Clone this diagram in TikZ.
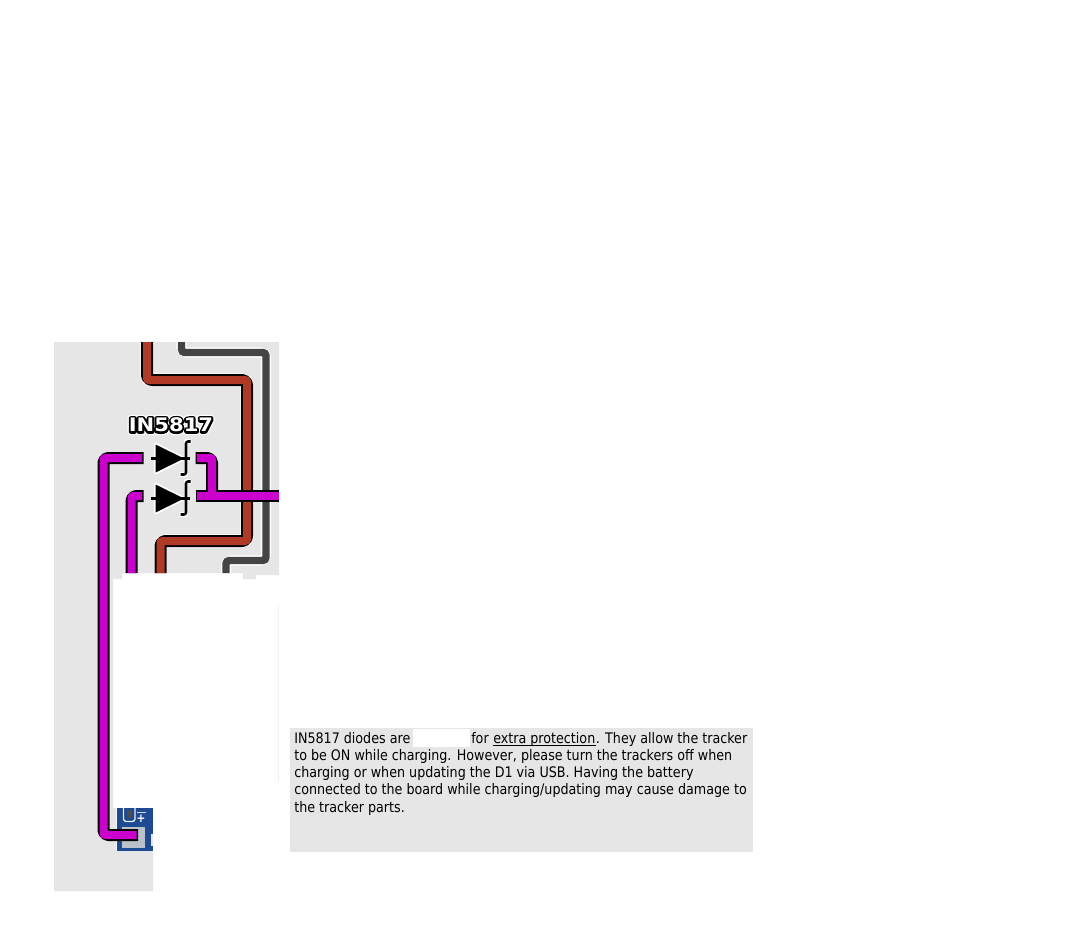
\documentclass[tikz,border=0pt]{standalone}
\usepackage{fontspec}
\setmainfont[FakeStretch=0.972]{DejaVu Sans Condensed}
\newfontfamily\labfont[FakeStretch=1.13]{DejaVu Sans Bold}
\definecolor{panelgrey}{HTML}{E6E6E6}
\definecolor{wirered}{HTML}{B03A26}
\definecolor{wiregrey}{HTML}{444444}
\definecolor{wiremag}{HTML}{CC00CC}
\definecolor{boardblue}{HTML}{1D4A92}
\definecolor{padgrey}{HTML}{B9C2CA}
\newcommand{\outlinedlabel}[1]{%
  \rlap{\special{pdf:literal direct q 1 j 1 J 5 w 1 1 1 RG 1 1 1 rg 2 Tr}#1\special{pdf:literal direct Q}}%
  \rlap{\special{pdf:literal direct q 1 j 1 J 3 w 0 0 0 RG 0 0 0 rg 2 Tr}#1\special{pdf:literal direct Q}}%
  \textcolor{white}{#1}}
\tikzset{
  halo/.style={draw=white,line width=10pt,rounded corners=4pt},
  greyhalo/.style={draw=white,line width=7.6pt,rounded corners=4pt},
  casing/.style={draw=black,line width=9pt,rounded corners=3.5pt,line join=round},
  redcore/.style={draw=wirered,line width=6pt,rounded corners=1.5pt},
  greycore/.style={draw=wiregrey,line width=5.6pt,rounded corners=2.5pt},
  magcore/.style={draw=wiremag,line width=6pt,rounded corners=1.5pt},
  bodytext/.style={anchor=base west,inner sep=0pt,font=\fontsize{10.9pt}{13pt}\selectfont,text=black},
  diodehalo/.style={draw=white,line width=3.2pt,line join=round,line cap=round},
  diodeline/.style={draw=black,line width=1.9pt,line join=round},
}
\begin{document}
\begin{tikzpicture}[x=0.75pt,y=-0.75pt]
\useasboundingbox (0,0) rectangle (1080,942);
\fill[white] (0,0) rectangle (1080,942);
\fill[panelgrey] (54,342) -- (279,342) -- (279,575) -- (256,575) -- (256,579) -- (243,579) -- (243,573) -- (122,573) -- (122,579) -- (113,579) -- (113,808) -- (116,808) -- (116,851) -- (153,851) -- (153,891) -- (54,891) -- cycle;
\draw[draw=panelgrey!50!white,line width=0.6pt] (278.6,605) -- (278.6,782);
% board
\fill[boardblue] (116.5,808) rectangle (153,851);
\fill[panelgrey] (150.5,834) rectangle (153,846);
\fill[padgrey] (122,827) rectangle (145,848);
\draw[white!90!boardblue,line width=1pt,rounded corners=2pt] (123.5,808) -- (123.5,821.5) -- (135,821.5) -- (135,808);
\fill[black!70] (127,810) rectangle (132,818);
\node[font=\fontsize{9pt}{9pt}\selectfont\bfseries,text=white,inner sep=0pt] (plus) at (141,818.5) {+};
\fill[white!80!boardblue] (137,811.5) rectangle (146,813);
% wires
\coordinate (r0) at (147,342); \coordinate (r1) at (147,380); \coordinate (r2) at (247,380);
\coordinate (r3) at (247,541); \coordinate (r4) at (160.5,541); \coordinate (r5) at (160.5,573);
\coordinate (g0) at (181.5,342); \coordinate (g1) at (181.5,352.5); \coordinate (g2) at (266,352.5);
\coordinate (g3) at (266,560.5); \coordinate (g4) at (226,560.5); \coordinate (g5) at (226,573);
\path[halo] (r0)--(r1)--(r2)--(r3)--(r4)--(r5);
\path[casing] (r0)--(r1)--(r2)--(r3)--(r4)--(r5);
\path[redcore] (r0)--(r1)--(r2)--(r3)--(r4)--(r5);
\path[greyhalo] (g0)--(g1)--(g2)--(g3)--(g4)--(g5);
\path[greycore] (g0)--(g1)--(g2)--(g3)--(g4)--(g5);
\coordinate (a0) at (143.5,458); \coordinate (a1) at (103.5,458); \coordinate (a2) at (103.5,835); \coordinate (a3) at (138,835);
\coordinate (b0) at (143.5,496); \coordinate (b1) at (131.5,496); \coordinate (b2) at (131.5,573);
\coordinate (c0) at (195.5,458); \coordinate (c1) at (212,458); \coordinate (c2) at (212,496);
\coordinate (d0) at (195.5,496); \coordinate (d1) at (279,496);
\path[casing] (a0)--(a1)--(a2)--(a3);
\path[casing] (b0)--(b1)--(b2);
\path[casing] (c0)--(c1)--(c2);
\path[casing] (d0)--(d1);
\path[magcore,shorten <=1.1pt,shorten >=1.1pt] (a0)--(a1)--(a2)--(a3);
\path[magcore,shorten <=1.1pt] (b0)--(b1)--(b2);
\path[magcore,shorten <=1.1pt] (c0)--(c1)--(c2);
\path[magcore,shorten <=1.1pt] (d0)--(d1);
% diodes
\foreach \yy in {458.5,498.5}{
  \begin{scope}[shift={(0,\yy)}]
    \path[diodehalo] (156,-13.5) -- (183,0) -- (156,13.5) -- cycle;
    \path[diodehalo] (189.5,-17) -- (186,-17) -- (186,16) -- (181,16);
    \draw[diodeline] (151,0) -- (190,0);
    \fill[black] (155.5,-14) -- (184,0) -- (155.5,14) -- cycle;
    \draw[diodeline,rounded corners=1.5pt] (190.5,-17) -- (186,-17) -- (186,16) -- (180.5,16);
  \end{scope}
}
\node[inner sep=0pt,font=\labfont\fontsize{14pt}{16pt}\selectfont] (lab) at (171,425) {\outlinedlabel{IN5817}};
% text panel
\fill[panelgrey] (290,728) rectangle (753,852);
\fill[white] (413,729) rectangle (470,747);
\node[bodytext] (l1a) at (294,743) {IN5817 diodes are};
\node[bodytext] (l1b) at (471,743) {for};
\node[bodytext] (ul) at (493,743) {extra protection};
\draw[black,line width=0.75pt] (ul.base west)++(0,2) -- (ul.base east |- 0,745);
\node[bodytext] (l1c) at (ul.base east) {. They allow the tracker};
\node[bodytext] (l2) at (294,760) {to be ON while charging. However, please turn the trackers off when};
\node[bodytext] (l3) at (294,777) {charging or when updating the D1 via USB. Having the battery};
\node[bodytext] (l4) at (294,794.5) {connected to the board while charging/updating may cause damage to};
\node[bodytext] (l5) at (294,812) {the tracker parts.};
\end{tikzpicture}
\end{document}
